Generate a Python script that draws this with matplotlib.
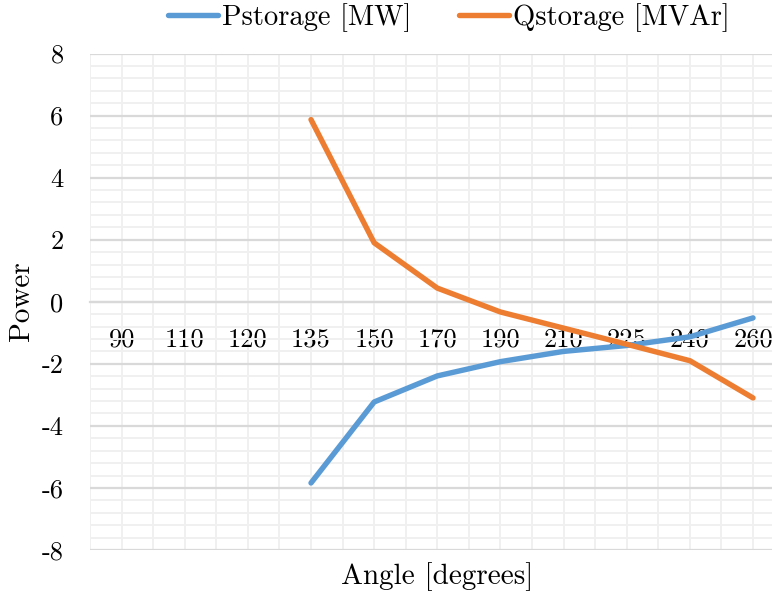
import matplotlib
matplotlib.use("Agg")
import matplotlib.pyplot as plt
import numpy as np

angles = ["90", "110", "120", "135", "150", "170", "190", "210", "225", "240", "260"]
p_storage = [None, None, None, -5.84, -3.23, -2.39, -1.93, -1.60, -1.41, -1.13, -0.52]
q_storage = [None, None, None, 5.87, 1.90, 0.44, -0.33, -0.85, -1.37, -1.90, -3.10]
y_ticks = [-8, -6, -4, -2, 0, 2, 4, 6, 8]

plt.rcParams["font.family"] = ["cmr10", "DejaVu Serif"]
plt.rcParams["axes.unicode_minus"] = False

BLUE = "#5B9BD5"
ORANGE = "#ED7D31"
MAJOR = "#d9d9d9"
MINOR = "#f0f0f0"

fig = plt.figure(figsize=(7.72, 5.94), dpi=100)
ax = fig.add_axes([90 / 772, 1 - 550 / 594, (784.6 - 90) / 772, (550 - 53.5) / 594])

x = np.arange(len(angles))


def series(vals):
    return np.array([np.nan if v is None else v for v in vals], dtype=float)


ax.plot(x, series(p_storage), color=BLUE, lw=3.9, solid_capstyle="round",
        solid_joinstyle="round", label="Pstorage [MW]", zorder=3)
ax.plot(x, series(q_storage), color=ORANGE, lw=3.9, solid_capstyle="round",
        solid_joinstyle="round", label="Qstorage [MVAr]", zorder=3)

for side in ["top", "right", "left"]:
    ax.spines[side].set_visible(False)
# category axis crosses the value axis at zero
ax.spines["bottom"].set_position(("data", 0))
ax.spines["bottom"].set_color(MAJOR)
ax.spines["bottom"].set_linewidth(1.6)
ax.spines["bottom"].set_zorder(1)

ax.set_xlim(-0.5, len(angles) - 0.5)
ax.set_ylim(-8, 8)

ax.set_xticks(x)
ax.set_xticklabels(angles)
ax.set_xticks(np.arange(-0.5, len(angles)), minor=True)
ax.set_yticks(y_ticks)
ax.set_yticklabels([str(v) for v in y_ticks])
ax.set_yticks(np.arange(-8, 8.01, 0.4), minor=True)

ax.tick_params(axis="both", which="both", length=0, labelsize=19)
ax.tick_params(axis="x", pad=18.5)
ax.tick_params(axis="y", pad=19)

# horizontal grid: light minor lines, darker every 2 units
ax.grid(axis="y", which="major", color=MAJOR, lw=1.6, zorder=1)
ax.grid(axis="y", which="minor", color=MINOR, lw=1.4, zorder=0)
ax.grid(axis="x", which="both", color=MINOR, lw=1.4, zorder=0)

fig.text(22 / 772, 1 - 301 / 594, "Power", rotation=90, fontsize=21,
         ha="center", va="center")
fig.text(437 / 772, 1 - 577 / 594, "Angle [degrees]", fontsize=21,
         ha="center", va="center")

fig.legend(loc="center", bbox_to_anchor=(449 / 772, 1 - 18 / 594), ncol=2,
           frameon=False, fontsize=20.6, handlelength=1.75, handletextpad=0.14,
           columnspacing=1.65)

fig.savefig("out.png", dpi=100)
